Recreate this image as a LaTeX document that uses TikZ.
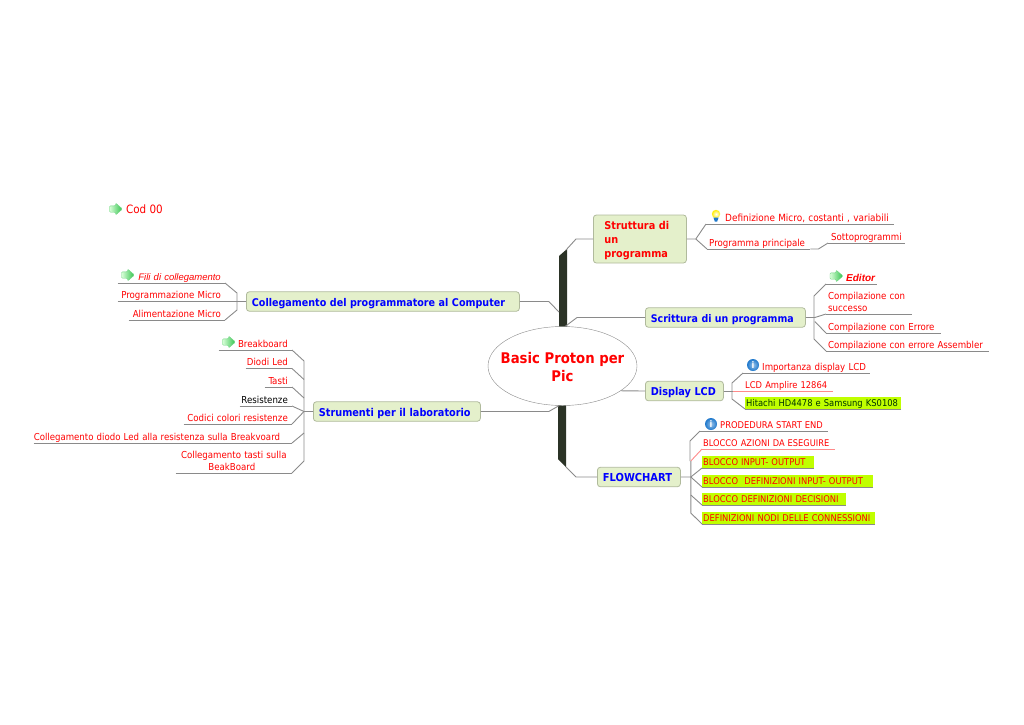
\documentclass[tikz,border=0pt]{standalone}
\usepackage{fontspec}
\setmainfont{DejaVu Sans Condensed}
\newfontfamily\arialfont{Liberation Sans}
\usetikzlibrary{shapes.geometric}
\definecolor{boxfill}{HTML}{E4F0CB}
\definecolor{boxline}{HTML}{B0BA9C}
\definecolor{trunk}{HTML}{2B3326}
\definecolor{hilite}{HTML}{C0FF00}
\definecolor{lnk}{HTML}{8A8A8A}
\definecolor{pinkline}{HTML}{FF8A8A}
\definecolor{arrowgreen}{HTML}{2FC04A}
\definecolor{infoblue}{HTML}{1E78CC}
\tikzset{
    root/.style={ellipse, draw=lnk, fill=white, minimum width=149, minimum height=79, inner sep=0},
    roottext/.style={inner sep=0, align=center, text=red, font=\fontsize{14.7}{18}\selectfont\bfseries},
    topic/.style={rounded corners=3, draw=boxline, fill=boxfill, line width=0.8, anchor=west,
        minimum height=19.5, inner xsep=5.5, text width=#1-11, align=left, text=blue,
        text height=9, text depth=0, font=\fontsize{10.8}{14}\selectfont\bfseries},
    leaf/.style={anchor=south west, inner xsep=2, inner ysep=2.5, text width=#1-4, align=left,
        text height=7, text depth=0, text=red, font=\fontsize{9.6}{12}\selectfont},
    hleaf/.style={leaf=#1, fill=hilite, inner xsep=1, text width=#1-2, font=\fontsize{9.3}{12}\selectfont},
    rleaf/.style={anchor=south east, inner xsep=0, inner ysep=2.5, text width=#1, align=right,
        text height=7, text depth=0, text=red, font=\fontsize{9.6}{12}\selectfont,
        execute at end node=\hspace*{4pt}},
    link/.style={draw=lnk, line width=0.9},
    pinklink/.style={draw=pinkline, line width=0.9},
    greenarrow/.pic={
        \shade[rounded corners=1, left color=green!15, right color=arrowgreen, draw=arrowgreen!70, line width=0.4]
        (-6.5,3.2) -- (-0.5,3.2) -- (-0.5,6) -- (6.5,0) -- (-0.5,-6) -- (-0.5,-3.2) -- (-6.5,-3.2) -- cycle;
    },
    infoball/.pic={
        \shade[inner color=infoblue!45, outer color=infoblue] (0,0) circle (6);
        \node[text=white, inner sep=0, font=\fontsize{9}{9}\selectfont\bfseries] (-i) at (0,0) {i};
    },
    bulb/.pic={
        \shade[inner color=white, outer color=yellow!85!orange] (0,-2) circle (4.2);
        \fill[infoblue] (-2.6,1.5) -- (2.6,1.5) -- (1.2,5.5) -- (-1.2,5.5) -- cycle;
    },
}

\begin{document}
\begin{tikzpicture}[x=1pt, y=-1pt]
    \useasboundingbox (0,0) rectangle (1024,724);

    % trunk
    \fill[trunk] (559,256) -- (567,249) -- (567,330) -- (559,330) -- cycle;
    \fill[trunk] (558,400) -- (566,400) -- (566,467) -- (558,459) -- cycle;
    \coordinate (tu) at (566,250);
    \coordinate (tm) at (559,312);
    \coordinate (td) at (566,467);

    % centre and main topics
    \node[root] (root) at (562.5,366) {};
    \node[roottext] (rootlabel) at (562.5,367) {Basic Proton per\\Pic};
    \node[topic=93, text=red, minimum height=48, inner xsep=11, text width=71, text height=9, text depth=29] (st) at (593,239) {Struttura di\\un\\programma};
    \node[topic=160, font=\fontsize{10.5}{14}\selectfont\bfseries] (sc) at (645,317.5) {\mbox{Scrittura di un programma}};
    \node[topic=78] (dl) at (645,391) {Display LCD};
    \node[topic=83, font=\fontsize{11}{14}\selectfont\bfseries] (fl) at (597,477) {FLOWCHART};
    \node[topic=273, font=\fontsize{10.65}{14}\selectfont\bfseries] (co) at (246,301.5) {\mbox{Collegamento del programmatore al Computer}};
    \node[topic=167] (su) at (313,411.5) {Strumenti per il laboratorio};

    % Cod 00
    \pic at (116,209) {greenarrow};
    \node[anchor=west, inner sep=0, text=red, font=\fontsize{11.5}{14}\selectfont] (cod) at (126,209) {Cod 00};

    % right side
    \node[leaf=188, font=\fontsize{9.9}{12}\selectfont] (st1) at (706,224) {\hspace*{17pt}Definizione Micro, costanti , variabili};
    \node[leaf=103] (st2) at (707,249) {Programma principale};
    \node[leaf=77] (st3) at (828,243) {\mbox{\hspace*{1pt}Sottoprogrammi}};
    \node[leaf=51, font=\arialfont\fontsize{10}{12}\selectfont\bfseries\itshape] (sc1) at (826,284) {\hspace*{18pt}Editor};
    \node[leaf=86, text depth=12] (sc2) at (826,314) {Compilazione con\\successo};
    \node[leaf=115] (sc3) at (826,333) {Compilazione con Errore};
    \node[leaf=163] (sc4) at (826,351) {\mbox{Compilazione con errore Assembler}};
    \node[leaf=127] (dl1) at (743,373) {\hspace*{17pt}Importanza display LCD};
    \node[leaf=90, font=\fontsize{9.3}{12}\selectfont] (dl2) at (743,391) {LCD Amplire 12864};
    \node[hleaf=156, text=black!80!green] (dl3) at (745,409) {\mbox{Hitachi HD4478 e Samsung KS0108}};
    \node[leaf=128, font=\fontsize{9.3}{12}\selectfont] (fl1) at (700,431) {\hspace*{18pt}PRODEDURA START END};
    \node[leaf=133, inner xsep=1, text width=131, font=\fontsize{9.2}{12}\selectfont] (fl2) at (702,449) {BLOCCO AZIONI DA ESEGUIRE};
    \node[hleaf=112] (fl3) at (702,468) {BLOCCO INPUT- OUTPUT};
    \node[hleaf=171] (fl4) at (702,487) {\mbox{BLOCCO\ \ DEFINIZIONI INPUT- OUTPUT}};
    \node[hleaf=144] (fl5) at (702,505) {\mbox{BLOCCO DEFINIZIONI DECISIONI}};
    \node[hleaf=173] (fl6) at (702,524) {\mbox{DEFINIZIONI NODI DELLE CONNESSIONI}};

    % left side
    \node[rleaf=107, font=\arialfont\fontsize{9.5}{12}\selectfont\itshape] (co1) at (225,283) {Fili di collegamento};
    \node[rleaf=107] (co2) at (225,301.5) {Programmazione Micro};
    \node[rleaf=96] (co3) at (225,320) {Alimentazione Micro};
    \node[rleaf=73] (su1) at (292,350) {Breakboard};
    \node[rleaf=46] (su2) at (292,368.5) {Diodi Led};
    \node[rleaf=27] (su3) at (292,387) {Tasti};
    \node[rleaf=52, text=black] (su4) at (292,406) {Resistenze};
    \node[rleaf=108] (su5) at (292,424) {Codici colori resistenze};
    \node[rleaf=258, execute at end node=\hspace*{8pt}, font=\fontsize{9.55}{12}\selectfont] (su6) at (292,443) {\mbox{Collegamento diodo Led alla resistenza sulla Breakvoard}};
    \node[rleaf=116, align=center, text depth=12, execute at end node={}] (su7) at (292,473) {Collegamento tasti sulla\\BeakBoard};

    % icons
    \pic at (716,216) {bulb};
    \pic at (836.5,276) {greenarrow};
    \pic at (753,365) {infoball};
    \pic at (711,424) {infoball};
    \pic at (128,275) {greenarrow};
    \pic at (229,342) {greenarrow};

    % underlines
    \foreach \n in {st1,st2,st3,sc1,sc2,sc3,sc4,dl1,dl3,fl1,fl3,fl4,fl5,fl6,co1,co2,co3,su1,su2,su3,su4,su5,su6,su7}
        \draw[link] (\n.south west) -- (\n.south east);
    \foreach \n in {dl2,fl2}
        \draw[pinklink] (\n.south west) -- (\n.south east);

    % main branches
    \draw[link] (st.west) -- ++(-17,0) -- (tu);
    \draw[link] (co.east) -- ++(29,0) -- (tm);
    \draw[link] (sc.west) -- ++(-68,0) -- (root.86);
    \draw[link] (dl.west) -- (root.-23);
    \draw[link] (su.east) -- ++(68,0) -- (root.-95);
    \draw[link] (fl.west) -- ++(-21,0) -- (td);

    % forks right
    \draw[link] (st.east) -- ++(9,0) coordinate (stf) -- (st1.south west);
    \draw[link] (stf) -- (st2.south west);
    \draw[link] (st2.south east) -- ++(8,0) -- (st3.south west);

    \draw[link] (sc.east) -- ++(9,0) coordinate (scf) -- (sc2.south west);
    \draw[link] (sc1.south west) -- ++(-12,12) -- ++(0,43) -- (sc4.south west);
    \draw[link] (scf) ++(0,4) -- (sc3.south west);

    \draw[link] (dl.east) -- ++(9,0) coordinate (dlf);
    \draw[pinklink] (dlf) -- (dl2.south west);
    \draw[link] (dl1.south west) -- ++(-11,10) -- ++(0,16) -- (dl3.south west);

    \draw[link] (fl.east) -- ++(10,0) coordinate (flf) -- (fl3.south west);
    \draw[link] (flf) -- (fl4.south west);
    \draw[link] (fl1.south west) -- ++(-10,10) -- ++(0,20);
    \draw[link] (flf) ++(0,-16) -- (flf) -- ++(0,36) -- (fl6.south west);
    \draw[pinklink] (flf) ++(0,-16) -- (fl2.south west);
    \draw[link] (flf) ++(0,18) -- (fl5.south west);

    % forks left
    \draw[link] (co.west) -- ++(-9,0) coordinate (cof) -- (co2.south east);
    \draw[link] (co1.south east) -- ++(12,10) -- ++(0,17) -- (co3.south east);

    \draw[link] (su.west) -- ++(-9,0) coordinate (suf) -- (su4.south east);
    \draw[link] (suf) -- (su5.south east);
    \draw[link] (su1.south east) -- ++(12,11) -- ++(0,100) -- (su7.south east);
    \draw[link] (su2.south east) -- ++(12,11);
    \draw[link] (su3.south east) -- ++(12,11);
    \draw[link] (su6.south east) -- ++(12,-10);
\end{tikzpicture}
\end{document}
